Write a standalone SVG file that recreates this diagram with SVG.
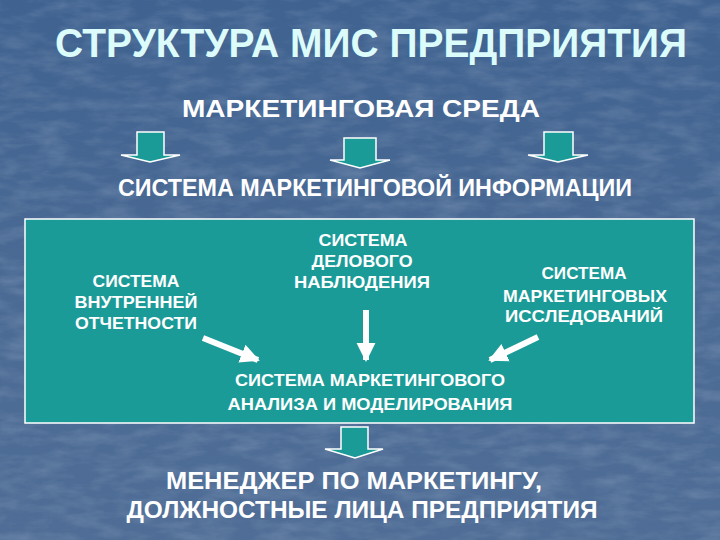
<svg xmlns="http://www.w3.org/2000/svg" width="720" height="540" viewBox="0 0 720 540">
  <defs>
    <linearGradient id="bg" x1="0" y1="0" x2="0" y2="1">
      <stop offset="0" stop-color="#3f6290"/>
      <stop offset="0.5" stop-color="#4a6a94"/>
      <stop offset="1" stop-color="#4f6d96"/>
    </linearGradient>
    <filter id="tex" x="0" y="0" width="100%" height="100%">
      <feTurbulence type="fractalNoise" baseFrequency="0.03 0.09" numOctaves="4" seed="4"/>
      <feColorMatrix type="matrix" values="0 0 0 0 0.75  0 0 0 0 0.8  0 0 0 0 0.9  0 0 0 1.2 -0.45"/>
    </filter>
    <marker id="ah" viewBox="0 0 10 10" refX="9" refY="5" markerWidth="3.2" markerHeight="3.6" orient="auto" markerUnits="strokeWidth">
      <path d="M0,0 L10,5 L0,10 Z" fill="#ffffff"/>
    </marker>
    <style>
      text { font-family: "Liberation Sans", "DejaVu Sans", Arial, sans-serif; font-weight: bold; text-anchor: middle; }
      .title { fill: #dcfbfb; font-size: 41px; }
      .head { fill: #ffffff; font-size: 23px; }
      .box { fill: #ffffff; font-size: 16.5px; }
      .blk { fill: #1b9b97; stroke: #ffffff; stroke-width: 1.5; stroke-linejoin: miter; }
      .conn { stroke: #ffffff; stroke-width: 6; fill: none; marker-end: url(#ah); }
    </style>
  </defs>

  <rect width="720" height="540" fill="url(#bg)"/>
  <rect width="720" height="540" filter="url(#tex)" opacity="0.25"/>

  <text class="title" x="371" y="57" textLength="632" lengthAdjust="spacingAndGlyphs">СТРУКТУРА МИС ПРЕДПРИЯТИЯ</text>

  <g id="env">
    <text class="head" x="361" y="117" textLength="358" lengthAdjust="spacingAndGlyphs">МАРКЕТИНГОВАЯ СРЕДА</text>
  </g>

  <g id="top-arrows">
    <path class="blk" d="M137,132 H164 V155 H180 L150,162 L121,155 H137 Z"/>
    <path class="blk" d="M344,138 H376 V160 H390 L360,168 L330,160 H344 Z"/>
    <path class="blk" d="M544,132 H573 V155 H588 L558,162 L528,155 H544 Z"/>
  </g>

  <g id="mis">
    <text class="head" x="375" y="196" textLength="514" lengthAdjust="spacingAndGlyphs">СИСТЕМА МАРКЕТИНГОВОЙ ИНФОРМАЦИИ</text>
    <rect x="25" y="219" width="669" height="204" fill="#1b9b97" stroke="#ffffff" stroke-width="1.5"/>
  </g>

  <g id="internal">
    <text class="box" x="136" y="287" textLength="87" lengthAdjust="spacingAndGlyphs">СИСТЕМА</text>
    <text class="box" x="136" y="308" textLength="123" lengthAdjust="spacingAndGlyphs">ВНУТРЕННЕЙ</text>
    <text class="box" x="136" y="329" textLength="122" lengthAdjust="spacingAndGlyphs">ОТЧЕТНОСТИ</text>
  </g>

  <g id="observation">
    <text class="box" x="363" y="246" textLength="89" lengthAdjust="spacingAndGlyphs">СИСТЕМА</text>
    <text class="box" x="362" y="267" textLength="101" lengthAdjust="spacingAndGlyphs">ДЕЛОВОГО</text>
    <text class="box" x="362" y="288" textLength="136" lengthAdjust="spacingAndGlyphs">НАБЛЮДЕНИЯ</text>
  </g>

  <g id="research">
    <text class="box" x="584" y="279" textLength="85" lengthAdjust="spacingAndGlyphs">СИСТЕМА</text>
    <text class="box" x="585" y="302" textLength="164" lengthAdjust="spacingAndGlyphs">МАРКЕТИНГОВЫХ</text>
    <text class="box" x="584" y="322" textLength="158" lengthAdjust="spacingAndGlyphs">ИССЛЕДОВАНИЙ</text>
  </g>

  <g id="analysis">
    <text class="box" x="370" y="386" textLength="270" lengthAdjust="spacingAndGlyphs">СИСТЕМА МАРКЕТИНГОВОГО</text>
    <text class="box" x="370" y="410" textLength="285" lengthAdjust="spacingAndGlyphs">АНАЛИЗА И МОДЕЛИРОВАНИЯ</text>
  </g>

  <g id="connectors">
    <line class="conn" x1="203" y1="338" x2="258" y2="360"/>
    <line class="conn" x1="366" y1="310" x2="366" y2="360"/>
    <line class="conn" x1="538" y1="337" x2="490" y2="360"/>
    <path class="blk" d="M341,427 H368 V449 H383 L355,458 L325,449 H341 Z"/>
  </g>

  <g id="managers">
    <text class="head" x="354" y="489" textLength="376" lengthAdjust="spacingAndGlyphs">МЕНЕДЖЕР ПО МАРКЕТИНГУ,</text>
    <text class="head" x="362" y="518" textLength="471" lengthAdjust="spacingAndGlyphs">ДОЛЖНОСТНЫЕ ЛИЦА ПРЕДПРИЯТИЯ</text>
  </g>
</svg>
